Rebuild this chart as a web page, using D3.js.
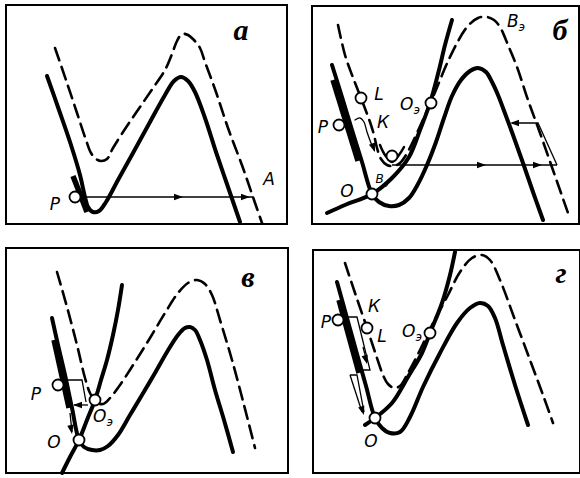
<!DOCTYPE html>
<html><head><meta charset="utf-8">
<script src="https://cdn.jsdelivr.net/npm/d3@7"></script>
<style>body{margin:0;background:#fff}svg{display:block}</style>
</head><body><svg id="c" width="580" height="478"></svg>
<script>
// ---------- DATA (panel-local coordinates) ----------
const panelNames = ["а", "б", "в", "г"];

// panel а
const solidA = [[47,76],[59,110],[71,145],[80,175],[85,197],[88,207],[93,212],[99,211],[106,202],[118,180],[133,153],[150,122],[165,95],[174,81],[181,77],[188,81],[195,92],[205,118],[216,152],[228,187],[240,222]];
const dashedA = [[55,48],[66,80],[77,113],[86,140],[91,153],[96,159],[101,161],[107,159],[113,148],[127,126],[140,107],[153,88],[165,70],[172,54],[177,41],[182,34],[188,35],[194,40],[200,48],[205,62],[216,92],[228,128],[243,168],[254,200],[262,223]];
const barA = [[73,176],[87,212]];
const arrowLineA = [[80,197],[253,197]];
const headsA = [[183,197,0],[250,197,0]];
const circlesA = [[75,197]];
const labelsA = [["Р",55,210],["А",269,185]];

// panel б
const solidB = [[42,65],[52,97],[62,130],[72,162],[82,194],[89,202],[99,206],[109,205],[119,198],[128,184],[137,165],[146,142],[154,118],[162,96],[171,80],[180,71],[188,68],[196,72],[202,82],[208,95],[213,108],[223,135],[233,163],[243,192],[253,220]];
const paraB = [[37,213],[55,205],[82,194],[102,178],[119,157],[130,130],[140,103],[149,70],[155,45],[162,20]];
const dashedB = [[48,25],[55,55],[62,75],[71,98],[80,122],[84,135],[87,148],[91,159],[97,165],[104,166],[110,163],[116,155],[127,133],[143,97],[160,57],[177,27],[188,18],[197,17],[204,20],[210,27],[218,45],[227,67],[238,100],[250,133],[264,173],[278,213]];
const barB = [[43,80],[68,161]];
const arrowLineB = [[102,165],[267,165]];
const feedbackB = [[267,165],[248,123],[222,123]];
const curvedArrowB = [[65,120],[70,118],[74,122],[77,132],[81,143],[84,150]];
const cupB = [[90,145],[95,155],[102,162],[109,155],[114,147]];
const headsB = [[196,165,0],[252,165,0],[220,123,180],[85,152,70]];
const circlesB = [[49,125],[71,98],[102,156],[82,194],[141,103]];
const labelsB = [["Р",33,133],["L",89,100],["К",93,128],["О",57,197]];
const subLabelsB = [["О",120,110],["В",226,27],["В",92,183]];

// panel в
const solidC = [[52,78],[58,105],[65,135],[72,168],[79,200],[84,207],[92,210],[100,210],[108,206],[118,195],[130,175],[142,155],[155,133],[167,112],[178,95],[185,88],[190,87],[195,90],[200,100],[207,120],[215,150],[224,180],[233,212]];
const paraC = [[62,233],[70,217],[79,200],[87,180],[95,160],[101,140],[107,120],[113,95],[118,70],[122,45]];
const dashedC = [[57,32],[67,67],[77,105],[85,138],[90,153],[96,162],[103,164],[110,158],[120,145],[135,122],[150,98],[165,73],[178,53],[188,43],[197,40],[205,44],[212,55],[220,80],[232,120],[244,165],[255,208]];
const barC = [[54,100],[69,168]];
const loopC = [[62,140],[82,140],[86,162]];
const backC = [[88,165],[74,165]];
const downC = [[70,173],[72,192]];
const headsC = [[73,165,180],[72,194,80]];
const circlesC = [[58,145],[79,200],[95,160]];
const labelsC = [["Р",36,160],["О",54,208]];
const subLabelsC = [["О",103,182]];

// panel г
const solidD = [[47,42],[57,78],[67,114],[76,146],[85,178],[92,188],[100,193],[110,192],[120,177],[133,147],[150,113],[167,83],[180,68],[190,63],[198,66],[205,78],[213,105],[225,145],[238,185]];
const paraD = [[75,185],[85,178],[102,163],[118,137],[132,113],[140,93],[152,63],[160,35],[165,12]];
const dashedD = [[55,23],[65,53],[77,88],[86,115],[93,135],[98,144],[104,148],[110,146],[118,133],[130,110],[142,85],[157,57],[170,32],[182,18],[192,15],[200,20],[210,40],[225,80],[240,120],[253,155],[263,183]];
const barD = [[49,60],[69,133]];
const loop1D = [[58,77],[67,77],[80,130],[72,130]];
const arrow1D = [[73,107],[77,122]];
const loop2D = [[60,135],[67,135],[74,172]];
const edge2D = [[60,135],[72,172]];
const headsD = [[77,124,75],[74,175,72]];
const circlesD = [[48,80],[77,88],[85,178],[140,93]];
const labelsD = [["Р",36,88],["К",84,72],["L",92,102],["О",81,207]];
const subLabelsD = [["О",122,97]];

// ---------- DRAWING ----------
const svg = d3.select("#c");
const panels = [
  {name: panelNames[0], ox: 0, oy: 0, frame: [6,5,287,224], nameAt: [241,40]},
  {name: panelNames[1], ox: 290, oy: 0, frame: [22,6,289,224], nameAt: [270,40]},
  {name: panelNames[2], ox: 0, oy: 240, frame: [6,8,288,233], nameAt: [248,47]},
  {name: panelNames[3], ox: 290, oy: 240, frame: [23,10,290,233], nameAt: [271,43]}
];

function setup(p) {
  const x = d3.scaleLinear().domain([0,290]).range([p.ox, p.ox+290]);
  const y = d3.scaleLinear().domain([0,240]).range([p.oy, p.oy+240]);
  const g = svg.append("g");
  const smooth = d3.line().x(d=>x(d[0])).y(d=>y(d[1])).curve(d3.curveCatmullRom.alpha(0.5));
  const straight = d3.line().x(d=>x(d[0])).y(d=>y(d[1]));
  const f = p.frame;
  g.append("rect").attr("x", x(f[0])).attr("y", y(f[1]))
    .attr("width", x(f[2])-x(f[0])).attr("height", y(f[3])-y(f[1]))
    .attr("fill","none").attr("stroke","#000").attr("stroke-width",2);
  g.append("text").attr("x", x(p.nameAt[0])).attr("y", y(p.nameAt[1]))
    .attr("text-anchor","middle").attr("font-family","Liberation Serif, serif")
    .attr("font-style","italic").attr("font-weight","bold").attr("font-size",30).text(p.name);
  return {
    g, x, y,
    curve(data, w, dash) {
      g.append("path").attr("d", smooth(data)).attr("fill","none").attr("stroke","#000")
        .attr("stroke-width", w).attr("stroke-dasharray", dash || null)
        .attr("stroke-linecap","round").attr("stroke-linejoin","round");
    },
    poly(data, w, cap) {
      g.append("path").attr("d", straight(data)).attr("fill","none").attr("stroke","#000")
        .attr("stroke-width", w).attr("stroke-linecap", cap || "butt").attr("stroke-linejoin","miter");
    },
    heads(list) {
      list.forEach(h => g.append("path").attr("d","M0,0L-9,-3.2L-9,3.2Z").attr("fill","#000")
        .attr("transform", `translate(${x(h[0])},${y(h[1])}) rotate(${h[2]})`));
    },
    circles(list, r) {
      list.forEach(c => g.append("circle").attr("cx", x(c[0])).attr("cy", y(c[1])).attr("r", r || 5.5)
        .attr("fill","#fff").attr("stroke","#000").attr("stroke-width",1.8));
    },
    labels(list, size) {
      list.forEach(l => g.append("text").attr("x", x(l[1])).attr("y", y(l[2])).attr("text-anchor","middle")
        .attr("font-family","DejaVu Sans, sans-serif").attr("font-style","italic")
        .attr("font-size", size || 17).text(l[0]));
    },
    subLabels(list, size) {
      list.forEach(l => {
        const t = g.append("text").attr("x", x(l[1])).attr("y", y(l[2])).attr("text-anchor","middle")
          .attr("font-family","DejaVu Sans, sans-serif").attr("font-style","italic").attr("font-size", size || 17);
        t.append("tspan").text(l[0]);
        t.append("tspan").attr("font-size", (size||17)*0.7).attr("dy", 4).text("э");
      });
    }
  };
}

const dashPat = "13 7";

// а
let P = setup(panels[0]);
P.curve(dashedA, 2.6, dashPat);
P.curve(solidA, 4);
P.poly(barA, 5.5);
P.poly(arrowLineA, 1.3);
P.heads(headsA);
P.circles(circlesA, 5.5);
P.labels(labelsA);

// б
P = setup(panels[1]);
P.curve(dashedB, 2.6, dashPat);
P.curve(solidB, 4);
P.curve(paraB, 4);
P.poly(barB, 5.5);
P.poly(arrowLineB, 1.3);
P.poly(feedbackB, 1.3);
P.curve(curvedArrowB, 1.3);
P.curve(cupB, 2.5);
P.heads(headsB);
P.circles(circlesB, 5.5);
P.labels(labelsB);
P.subLabels(subLabelsB.slice(0,2), 17);
P.subLabels(subLabelsB.slice(2), 12);

// в
P = setup(panels[2]);
P.curve(dashedC, 2.6, dashPat);
P.curve(solidC, 4);
P.curve(paraC, 4);
P.poly(barC, 5.5);
P.poly(loopC, 1.3);
P.poly(backC, 1.3);
P.poly(downC, 1.3);
P.heads(headsC);
P.circles(circlesC, 5.5);
P.labels(labelsC);
P.subLabels(subLabelsC);

// г
P = setup(panels[3]);
P.curve(dashedD, 2.6, dashPat);
P.curve(solidD, 4);
P.curve(paraD, 4);
P.poly(barD, 5.5);
P.poly(loop1D, 1.3);
P.poly(arrow1D, 1.3);
P.poly(loop2D, 1.3);
P.poly(edge2D, 1.3);
P.heads(headsD);
P.circles(circlesD, 5.5);
P.labels(labelsD);
P.subLabels(subLabelsD);
</script></body></html>
